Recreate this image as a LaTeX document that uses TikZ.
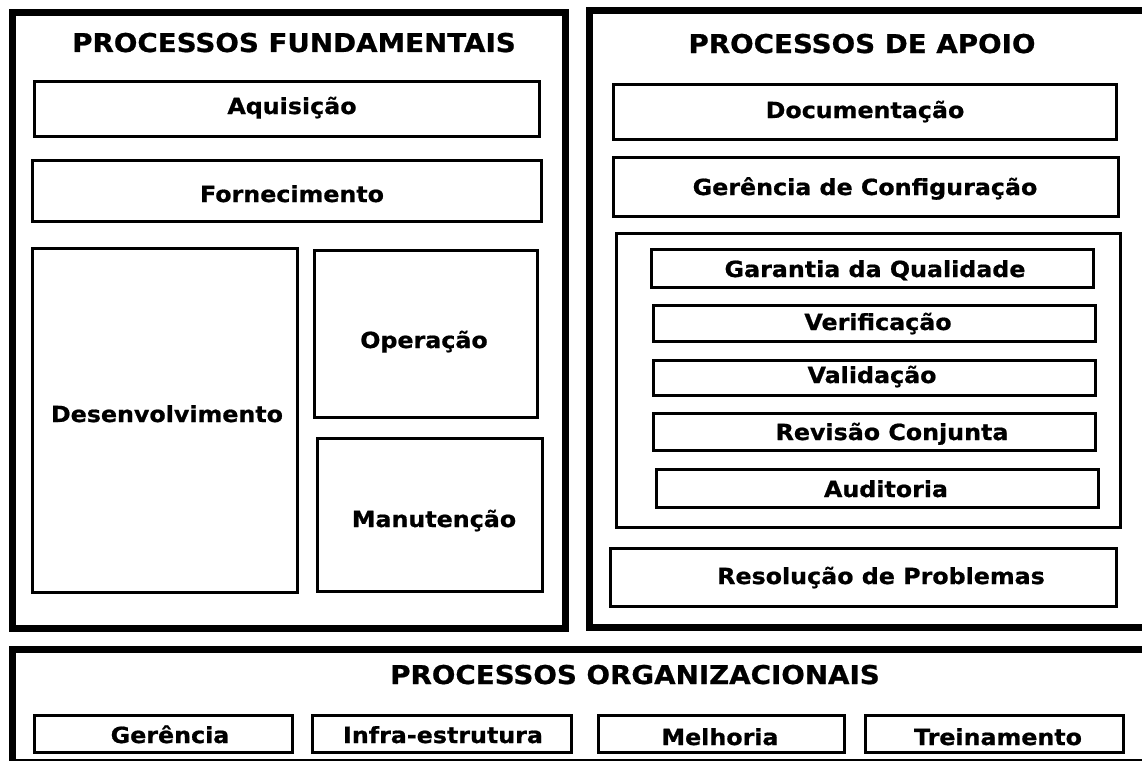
\documentclass[tikz,border=0pt]{standalone}
\usepackage{fontspec}
\usetikzlibrary{fit}
\newfontfamily\dv[FakeStretch=1.07, FakeBold=0.8]{DejaVu Sans}
\tikzset{
  outerbox/.style={draw=black, line width=7pt, rectangle, inner sep=0pt},
  subbox/.style={draw=black, line width=3pt, rectangle, inner sep=0pt},
  ttl/.style={font=\dv\bfseries\fontsize{25.9}{30}\selectfont, anchor=base, inner sep=0pt},
  lbl/.style={font=\dv\bfseries\fontsize{22.2}{26}\selectfont, anchor=base, inner sep=0pt},
}
% #1 name, #2 x-left, #3 x-right, #4 y-top, #5 y-bottom (outer pixel edges)
\newcommand\pbox[5]{\node[subbox, fit={(#2+1.5,#4+1.5) (#3-1.5,#5-1.5)}] (#1) {};}
\begin{document}
\begin{tikzpicture}[x=1pt, y=-1pt]
\clip (0,0) rectangle (1142,760);
\fill[white] (0,0) rectangle (1142,760);

% outer groups
\node[outerbox, fit={(12,13) (565.5,628)}] (fund) {};
\node[outerbox, fit={(589.5,11) (1150,627)}] (apoio) {};
\node[outerbox, fit={(12,649) (1150,762)}] (org) {};

% titles
\node[ttl] (tfund) at (294,52) {PROCESSOS FUNDAMENTAIS};
\node[ttl] (tapoio) at (862,53) {PROCESSOS DE APOIO};
\node[ttl] (torg) at (635,684) {PROCESSOS ORGANIZACIONAIS};

% fundamentais
\pbox{aq}{33}{541}{80}{138}
\pbox{forn}{31}{543}{159}{223}
\pbox{desen}{31}{299}{247}{594}
\pbox{oper}{313}{539}{249}{419}
\pbox{manut}{316}{544}{437}{593}
\node[lbl] (laq) at (292,114) {Aquisição};
\node[lbl] (lforn) at (292,202) {Fornecimento};
\node[lbl] (ldesen) at (167,422) {Desenvolvimento};
\node[lbl] (loper) at (424,348) {Operação};
\node[lbl] (lmanut) at (434,527) {Manutenção};

% apoio
\pbox{doc}{612}{1118}{83}{141}
\pbox{gconf}{612}{1120}{156}{218}
\pbox{inner}{615}{1122}{232}{529}
\pbox{garant}{650}{1095}{248}{289}
\pbox{verif}{652}{1097}{304}{343}
\pbox{valid}{652}{1097}{359}{397}
\pbox{revis}{652}{1097}{412}{452}
\pbox{audit}{655}{1100}{468}{509}
\pbox{resol}{609}{1118}{547}{608}
\node[lbl] (ldoc) at (865,118) {Documentação};
\node[lbl] (lgconf) at (865,195) {Gerência de Configuração};
\node[lbl] (lgarant) at (875,277) {Garantia da Qualidade};
\node[lbl] (lverif) at (878,330) {Verificação};
\node[lbl] (lvalid) at (872,383) {Validação};
\node[lbl] (lrevis) at (892,440) {Revisão Conjunta};
\node[lbl] (laudit) at (886,497) {Auditoria};
\node[lbl] (lresol) at (881,584) {Resolução de Problemas};

% organizacionais
\pbox{ger}{33}{294}{714}{754}
\pbox{infra}{311}{573}{714}{754}
\pbox{melh}{597}{846}{714}{754}
\pbox{trein}{864}{1125}{714}{754}
\node[lbl] (lger) at (170,743) {Gerência};
\node[lbl] (linfra) at (443,743) {Infra-estrutura};
\node[lbl] (lmelh) at (720,745) {Melhoria};
\node[lbl] (ltrein) at (998,745) {Treinamento};
\end{tikzpicture}
\end{document}
